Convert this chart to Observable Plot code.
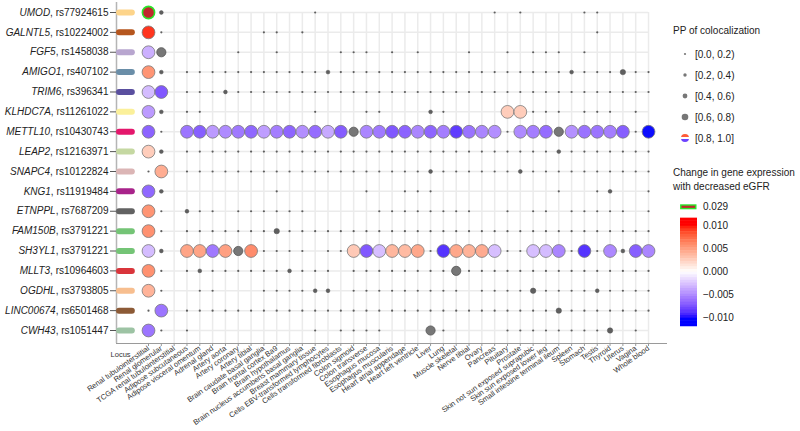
<!DOCTYPE html>
<html><head><meta charset="utf-8">
<script src="https://cdn.jsdelivr.net/npm/d3@7"></script>
<script src="https://cdn.jsdelivr.net/npm/@observablehq/plot@0.6"></script>
<style>
body{margin:0;background:#fff;font-family:"Liberation Sans",Arial,sans-serif}
#wrap{position:relative;width:800px;height:431px;overflow:hidden}
#legend{position:absolute;left:0;top:0;pointer-events:none}
</style></head><body><div id="wrap"></div>
<script>
const genes = ["UMOD","GALNTL5","FGF5","AMIGO1","TRIM6","KLHDC7A","METTL10","LEAP2","SNAPC4","KNG1","ETNPPL","FAM150B","SH3YL1","MLLT3","OGDHL","LINC00674","CWH43"];
const snps = ["rs77924615","rs10224002","rs1458038","rs407102","rs396341","rs11261022","rs10430743","rs12163971","rs10122824","rs11919484","rs7687209","rs3791221","rs3791221","rs10964603","rs3793805","rs6501468","rs1051447"];
const locusColors = ["#fdd48a","#b5561e","#b8a6cf","#6a8ea8","#5a4f9f","#fbf09a","#e4176c","#c5d8a2","#dbb5b5","#a8238a","#626262","#74c476","#74c476","#d9353b","#f7be8f","#8c5a36","#9dc3a4"];
const tissues = ["Renal tubulointerstitial","Renal glomerular","TCGA renal tubulointerstitial","Adipose subcutaneous","Adipose visceral omentum","Adrenal gland","Artery aorta","Artery coronary","Artery tibial","Brain caudate basal ganglia","Brain frontal cortex Ba9","Brain hypothalamus","Brain nucleus accumbens basal ganglia","Breast mammary tissue","Cells EBV-transformed lymphocytes","Cells transformed fibroblasts","Colon sigmoid","Colon transverse","Esophagus mucosa","Esophagus muscularis","Heart atrial appendage","Heart left ventricle","Liver","Lung","Muscle skeletal","Nerve tibial","Ovary","Pancreas","Pituitary","Prostate","Skin not sun exposed suprapubic","Skin sun exposed lower leg","Small intestine terminal ileum","Spleen","Stomach","Testis","Thyroid","Uterus","Vagina","Whole blood"];
// PP of colocalization class per tissue: 0=[0,0.2) 1=[0.2,0.4) 2=[0.4,0.6) 3=[0.6,0.8) 4=[0.8,1.0], "." = not tested
const ppRows = [
  "41........ ...0...... .......0.0 ....00....",
  "40.......0 0.0....... .......... .....0....",
  "43.....0.. 0....000.0 .0...0..0. 000.0.....",
  "41.0000000 0000100000 0000000000 0001000200",
  "44.0001000 0000000000 0000000000 0000000000",
  "41.00..... ...0...00. ..10....44 000.000.0.",
  "40.4444444 4444443444 4444444404 4434444404",
  "41.0000000 0000000000 0000000000 0010000000",
  "04.0000000 0000000000 0010000001 0000000000",
  "41........ 0......0.. 000....... ..0..01..0",
  "40.100.000 000.....00 000000..0. 00.00000.0",
  "40.0000000 2000000000 0000000000 0000000000",
  "41.4444340 000.004444 4404444400 4440404144",
  "40.0100000 01000.0000 0000300000 0000000000",
  "40..00...0 00011.0000 00000.0000 2000010000",
  "04.0000000 0000000000 0000000000 0020000000",
  "40.0...... ...0.0000. ..30....00 0000002.0."
];
// change in gene expression for each [0.8,1.0] cell, in column order
const changeRows = [
  [0.029],
  [0.0095],
  [-0.0035],
  [0.0058],
  [-0.003, -0.0075],
  [-0.0045, 0.0028, 0.0028],
  [-0.007, -0.0062, -0.0072, -0.0045, -0.0052, -0.006, -0.0068, -0.0043, -0.0058, -0.0069, -0.005, -0.0066, -0.0038, -0.0073,
   -0.0054, -0.006, -0.0075, -0.007, -0.0054, -0.0069, -0.0058, -0.0087, -0.0063, -0.0054, -0.005,
   -0.0052, -0.0058, -0.0066, -0.0049, -0.0063, -0.0062, -0.0058, -0.0072, -0.012],
  [0.0028],
  [0.0045],
  [-0.0068],
  [0.0058],
  [0.006],
  [-0.003, 0.005, 0.005, -0.006, 0.0052, 0.0062, 0.003, -0.0075, -0.0028, 0.004,
   0.0038, 0.0048, -0.009, 0.0048, 0.0042, 0.0046, -0.0028, -0.0028, -0.003, -0.0054, -0.009, -0.0053, -0.0072, -0.0054],
  [0.006],
  [0.0042],
  [-0.0062],
  [-0.0062]
];
const ppLabels = ["[0.0, 0.2)","[0.2, 0.4)","[0.4, 0.6)","[0.6, 0.8)","[0.8, 1.0]"];
const colorTicks = [0.01, 0.005, 0, -0.005, -0.01];

const cells = [];
ppRows.forEach((s, i) => {
  const str = s.replace(/ /g, "");
  let k = 0;
  [...str].forEach((ch, j) => {
    if (ch === ".") return;
    const cell = {row: i, col: j + 1, pp: +ch};
    if (cell.pp === 4) cell.change = changeRows[i][k++];
    cells.push(cell);
  });
});

const X0 = -1.496, X1 = 41.48, Y0 = -0.503, Y1 = 16.654;
const radii = [1.1, 1.9, 2.7, 4.6];
const font = '"Liberation Sans", Arial, Helvetica, sans-serif';
const labInterp = d3.piecewise(d3.interpolateLab, ["#0000ff", "#ffffff", "#ff0000"]);

const plot = Plot.plot({
  width: 800, height: 431,
  marginLeft: 116, marginRight: 133, marginTop: 2, marginBottom: 88,
  style: {fontFamily: font, fontSize: "10px", color: "#222", background: "white", overflow: "visible"},
  x: {type: "linear", domain: [X0, X1], axis: null},
  y: {type: "linear", domain: [Y0, Y1], reverse: true, axis: null},
  color: {type: "linear", domain: [-0.01, 0.01], interpolate: labInterp, clamp: true},
  marks: [
    Plot.ruleX(d3.range(3, 41), {x: d => d, y1: 0, y2: Y1, stroke: "#ebebeb", strokeWidth: 1.5}),
    Plot.ruleY(d3.range(17), {y: d => d, x1: 2, x2: 40, stroke: "#ebebeb", strokeWidth: 1.5}),
    Plot.ruleX([X0], {y1: Y0, y2: Y1, stroke: "#b5b5b5", strokeWidth: 1.5}),
    Plot.ruleY([Y1], {x1: X0, x2: X1, stroke: "#9a9a9a", strokeWidth: 1}),
    ...locusColors.map((c, i) => Plot.ruleY([i], {x1: -1.26, x2: -0.26, stroke: c, strokeWidth: 6, strokeLinecap: "round"})),
    Plot.axisY(d3.range(17), {label: null, tickFormat: i => `${genes[i]}, ${snps[i]}`, tickSize: 6, tickPadding: 2, fontSize: 10, stroke: "#555", fill: "#222"}),
    Plot.axisX(d3.range(1, 41), {label: null, tickFormat: i => tissues[i - 1], tickRotate: -35, tickSize: 3, tickPadding: 1, fontSize: 7.5, stroke: "#999", fill: "#333"}),
    Plot.text(["Locus"], {x: -1.18, y: 17.2, text: d => d, fontSize: 7.5, fill: "#333"}),
    ...[0, 1, 2].map(k => Plot.dot(cells.filter(d => d.pp === k), {x: "col", y: "row", r: radii[k], fill: "#5f5f5f", stroke: k ? "#555" : "none", strokeWidth: 0.5})),
    Plot.dot(cells.filter(d => d.pp === 3), {x: "col", y: "row", r: radii[3], fill: "#777", stroke: "#555", strokeWidth: 0.8}),
    Plot.dot(cells.filter(d => d.pp === 4 && d.change <= 0.012), {x: "col", y: "row", r: 6.4, fill: "change", fillOpacity: 0.95, stroke: "#7a7a7a", strokeWidth: 0.8}),
    Plot.dot(cells.filter(d => d.pp === 4 && d.change > 0.012), {x: "col", y: "row", r: 6.1, fill: "#c1272d", stroke: "#2ae52a", strokeWidth: 1.6})
  ]
});

const ns = "http://www.w3.org/2000/svg";
plot.querySelectorAll('g[aria-label="y-axis tick label"] text').forEach(t => {
  const s = t.textContent, k = s.indexOf(", ");
  if (k < 0) return;
  t.textContent = "";
  const a = document.createElementNS(ns, "tspan");
  a.setAttribute("font-style", "italic");
  a.textContent = s.slice(0, k);
  const b = document.createElementNS(ns, "tspan");
  b.textContent = s.slice(k);
  t.append(a, b);
});

const wrap = document.getElementById("wrap");
wrap.append(plot);

// legend
const cscale = Plot.scale({color: plot.scale("color")});
const svg = d3.select(wrap).append("svg").attr("id", "legend").attr("width", 800).attr("height", 431)
  .style("font-family", font).style("font-size", "10px");
svg.append("text").attr("x", 673).attr("y", 34).attr("fill", "#222").text("PP of colocalization");
const lr = [1.1, 1.7, 2.4, 3.3, 4];
const defs = svg.append("defs");
ppLabels.forEach((lab, i) => {
  const cy = 54 + 21 * i, cx = 685;
  if (i < 4) {
    svg.append("circle").attr("cx", cx).attr("cy", cy).attr("r", lr[i]).attr("fill", "#777");
  } else {
    defs.append("clipPath").attr("id", "ppclip").append("circle").attr("cx", cx).attr("cy", cy).attr("r", lr[i]);
    const g = svg.append("g").attr("clip-path", "url(#ppclip)");
    const r = lr[i];
    g.append("rect").attr("x", cx - r).attr("y", cy - r).attr("width", 2 * r).attr("height", 2 * r).attr("fill", "#fff");
    g.append("rect").attr("x", cx - r).attr("y", cy - r).attr("width", 2 * r).attr("height", r * 0.75).attr("fill", cscale.apply(0.008));
    g.append("rect").attr("x", cx - r).attr("y", cy + r * 0.25).attr("width", 2 * r).attr("height", r * 0.75).attr("fill", cscale.apply(-0.008));
  }
  svg.append("text").attr("x", 695).attr("y", cy + 3.5).attr("fill", "#222").text(lab);
});
svg.append("text").attr("x", 673).attr("y", 175.5).attr("fill", "#222").text("Change in gene expression");
svg.append("text").attr("x", 673).attr("y", 189.5).attr("fill", "#222").text("with decreased eGFR");
svg.append("rect").attr("x", 680.8).attr("y", 205).attr("width", 15).attr("height", 3.6)
  .attr("fill", "#c1272d").attr("stroke", "#2ae52a").attr("stroke-width", 1.4);
svg.append("text").attr("x", 703).attr("y", 210).attr("fill", "#222").text("0.029");
const yOf = v => 271.7 - v * 4620;
const steps = 40, vTop = 0.0117, vBot = -0.0117;
for (let s = 0; s < steps; s++) {
  const v0 = vTop - (vTop - vBot) * s / steps, v1 = vTop - (vTop - vBot) * (s + 1) / steps;
  svg.append("rect").attr("x", 680).attr("y", yOf(v0)).attr("width", 17).attr("height", yOf(v1) - yOf(v0) + 0.5)
    .attr("fill", cscale.apply((v0 + v1) / 2));
}
colorTicks.forEach(v => {
  svg.append("text").attr("x", 703).attr("y", yOf(v) + 3.5).attr("fill", "#222")
    .text(v === 0 ? "0.000" : (v < 0 ? "\u2212" : "") + Math.abs(v).toFixed(3));
});
</script></body></html>
